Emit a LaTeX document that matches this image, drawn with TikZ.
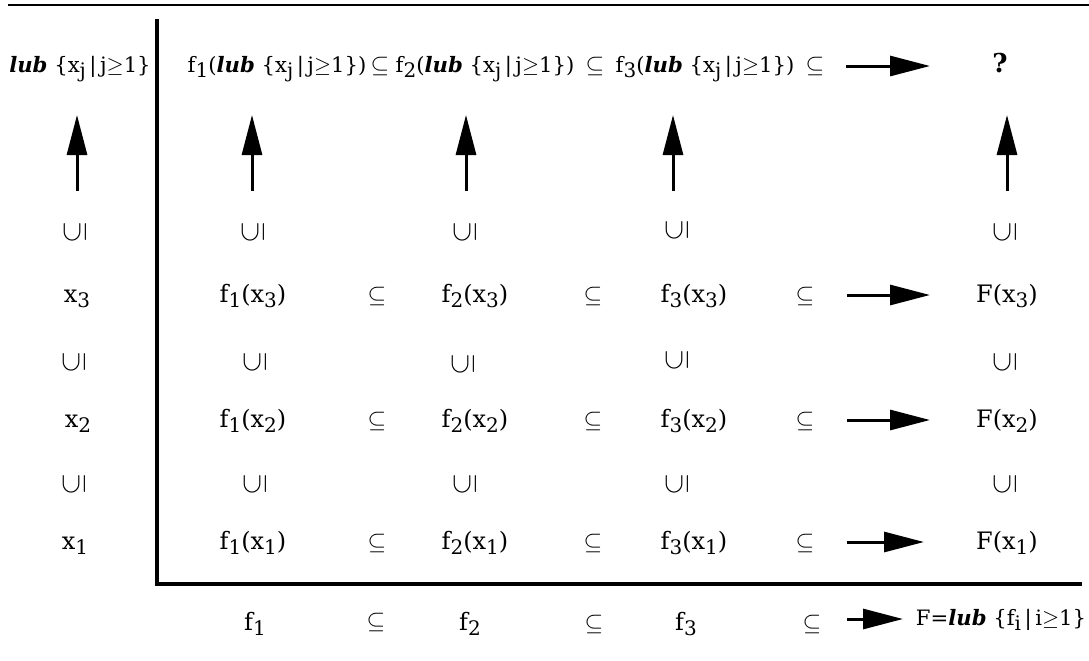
\documentclass[tikz,border=0pt]{standalone}
\usepackage{amsmath,amssymb}
\usepackage{fontspec}
\setmainfont{DejaVu Serif}
\usetikzlibrary{arrows.meta}

\newcommand{\lub}{\textbf{\textit{lub}}}
\newcommand{\low}[1]{\raisebox{-2.6pt}{\fontsize{10}{12}\selectfont #1}}
\newcommand{\xset}{\{x\low{j}\,|\,j$\geq$1\}}

\begin{document}
\begin{tikzpicture}[
    x=0.5pt, y=-0.5pt,
    term/.style={anchor=base, inner sep=0pt, font=\fontsize{12}{14}\selectfont},
    limterm/.style={term, font=\fontsize{10.6}{13}\selectfont},
    rel/.style={anchor=base, inner sep=0pt, font=\fontsize{13}{15}\selectfont},
    incl/.style={inner sep=0pt, rotate=90, font=\fontsize{14}{16}\selectfont},
    limarrow/.style={-{Triangle[length=20pt,width=10pt]}, line width=1.5pt},
    axisline/.style={line width=2pt}
  ]
    \useasboundingbox (0,0) rectangle (1089,660);

    % frame lines
    \draw[line width=1.2pt] (8,5) -- (1089,5);
    \draw[axisline] (157,19) -- (157,584) -- (1082,584);

    % top row: limits
    \node[limterm] (lubx) at (80,72) {\lub\ \xset};
    \node[limterm] (tf1) at (277,72) {f\low{1}(\lub\ \xset)};
    \node[rel] (ts1) at (380,72) {$\subseteq$};
    \node[limterm] (tf2) at (485,72) {f\low{2}(\lub\ \xset)};
    \node[rel] (ts2) at (595,72) {$\subseteq$};
    \node[limterm] (tf3) at (705,72) {f\low{3}(\lub\ \xset)};
    \node[rel] (ts3) at (815,72) {$\subseteq$};
    \node[term, font=\fontsize{13}{15}\selectfont\bfseries] (qm) at (1000,72) {?};

    % upward arrows
    \coordinate (a0) at (77,191);   \coordinate (b0) at (77,115);
    \coordinate (a1) at (252,191);  \coordinate (b1) at (252,115);
    \coordinate (a2) at (466,191);  \coordinate (b2) at (466,115);
    \coordinate (a3) at (673,191);  \coordinate (b3) at (673,115);
    \coordinate (a4) at (1007,191); \coordinate (b4) at (1007,115);
    \draw[limarrow] (a0) -- (b0);
    \draw[limarrow] (a1) -- (b1);
    \draw[limarrow] (a2) -- (b2);
    \draw[limarrow] (a3) -- (b3);
    \draw[limarrow] (a4) -- (b4);

    % inclusions above x3 row
    \node[incl] (u30) at (75,232) {$\subseteq$};
    \node[incl] (u31) at (253,232) {$\subseteq$};
    \node[incl] (u32) at (465,232) {$\subseteq$};
    \node[incl] (u33) at (677,230) {$\subseteq$};
    \node[incl] (u34) at (1005,232) {$\subseteq$};

    % x3 row
    \node[term] (x3) at (77,302) {x\low{3}};
    \node[term] (f1x3) at (253,302) {f\low{1}(x\low{3})};
    \node[rel] (s13) at (377,302) {$\subseteq$};
    \node[term] (f2x3) at (475,302) {f\low{2}(x\low{3})};
    \node[rel] (s23) at (593,302) {$\subseteq$};
    \node[term] (f3x3) at (694,302) {f\low{3}(x\low{3})};
    \node[rel] (s33) at (805,302) {$\subseteq$};
    \node[term] (Fx3) at (1007,302) {F(x\low{3})};

    % inclusions between x3 and x2
    \node[incl] (u20) at (74,362) {$\subseteq$};
    \node[incl] (u21) at (255,362) {$\subseteq$};
    \node[incl] (u22) at (463,364) {$\subseteq$};
    \node[incl] (u23) at (677,360) {$\subseteq$};
    \node[incl] (u24) at (1005,362) {$\subseteq$};

    % x2 row
    \node[term] (x2) at (78,427) {x\low{2}};
    \node[term] (f1x2) at (253,427) {f\low{1}(x\low{2})};
    \node[rel] (s12) at (377,427) {$\subseteq$};
    \node[term] (f2x2) at (475,427) {f\low{2}(x\low{2})};
    \node[rel] (s22) at (593,427) {$\subseteq$};
    \node[term] (f3x2) at (694,427) {f\low{3}(x\low{2})};
    \node[rel] (s32) at (805,427) {$\subseteq$};
    \node[term] (Fx2) at (1007,427) {F(x\low{2})};

    % inclusions between x2 and x1
    \node[incl] (u10) at (74,484) {$\subseteq$};
    \node[incl] (u11) at (255,484) {$\subseteq$};
    \node[incl] (u12) at (465,484) {$\subseteq$};
    \node[incl] (u13) at (677,484) {$\subseteq$};
    \node[incl] (u14) at (1005,484) {$\subseteq$};

    % x1 row
    \node[term] (x1) at (75,549) {x\low{1}};
    \node[term] (f1x1) at (253,549) {f\low{1}(x\low{1})};
    \node[rel] (s11) at (377,549) {$\subseteq$};
    \node[term] (f2x1) at (475,549) {f\low{2}(x\low{1})};
    \node[rel] (s21) at (593,549) {$\subseteq$};
    \node[term] (f3x1) at (694,549) {f\low{3}(x\low{1})};
    \node[rel] (s31) at (805,549) {$\subseteq$};
    \node[term] (Fx1) at (1007,549) {F(x\low{1})};

    % bottom row: the functions
    \node[term] (f1) at (255,630) {f\low{1}};
    \node[rel] (sf1) at (376,628) {$\subseteq$};
    \node[term] (f2) at (470,630) {f\low{2}};
    \node[rel] (sf2) at (594,630) {$\subseteq$};
    \node[term] (f3) at (686,630) {f\low{3}};
    \node[rel] (sf3) at (812,630) {$\subseteq$};
    \node[limterm] (F) at (1001,625) {F=\lub\ \{f\low{i}\,|\,i$\geq$1\}};

    % limit arrows
    \coordinate (h0) at (846,66);  \coordinate (k0) at (930,66);
    \coordinate (h3) at (847,295); \coordinate (k3) at (930,295);
    \coordinate (h2) at (847,420); \coordinate (k2) at (930,420);
    \coordinate (h1) at (847,542); \coordinate (k1) at (924,542);
    \coordinate (hf) at (847,619); \coordinate (kf) at (903,619);
    \draw[limarrow] (h0) -- (k0);
    \draw[limarrow] (h3) -- (k3);
    \draw[limarrow] (h2) -- (k2);
    \draw[limarrow] (h1) -- (k1);
    \draw[limarrow] (hf) -- (kf);
\end{tikzpicture}
\end{document}
